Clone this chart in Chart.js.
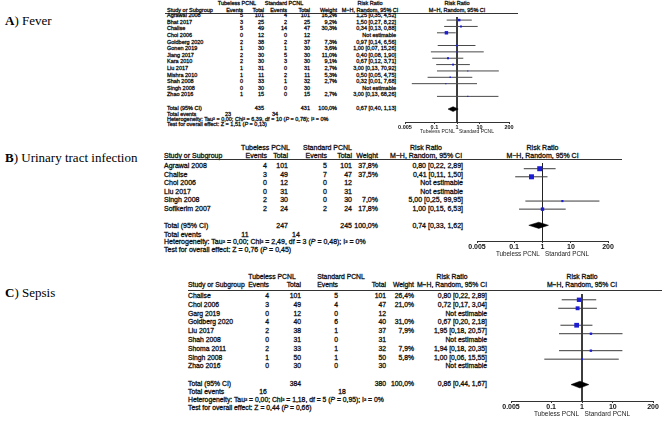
<!DOCTYPE html>
<html><head><meta charset="utf-8">
<script src="https://cdn.jsdelivr.net/npm/chart.js@4.4.0/dist/chart.umd.min.js"></script>
<style>
html,body{margin:0;padding:0;background:#fff;}
#root{position:relative;width:670px;height:427px;overflow:hidden;background:#fff;}
.t{position:absolute;white-space:nowrap;font-family:'Liberation Sans',Arial,sans-serif;color:#111;line-height:1;-webkit-text-stroke:0.3px #111;}
.lbl{position:absolute;white-space:nowrap;font-family:'Liberation Serif','Times New Roman',serif;color:#000;line-height:1;}
.rule{position:absolute;height:0;border-top:1px solid #333;}
canvas{position:absolute;}
</style></head><body><div id="root"></div>
<script>
// ---------- DATA ----------
const tickValues = [0.005, 0.1, 1, 10, 200];
const tickLabels = ['0.005', '0.1', '1', '10', '200'];

// A) Fever
const feverStudies = ['Agrawal 2008','Bhat 2017','Chalise','Choi 2006','Goldberg 2020','Gonen 2019','Jiang 2017','Kara 2010','Liu 2017','Mishra 2010','Shah 2008','Singh 2008','Zhao 2016'];
const feverTubEvents = [5,3,5,0,2,1,2,2,1,1,0,0,1];
const feverTubTotal  = [101,25,49,12,38,30,30,30,31,11,33,30,15];
const feverStdEvents = [4,2,14,0,2,1,5,3,0,2,1,0,0];
const feverStdTotal  = [101,25,47,12,37,30,30,30,31,11,32,30,15];
const feverWeight = [16.2,9.2,30.3,null,7.3,3.6,11.0,9.1,2.7,5.3,2.7,null,2.7];
const feverRR = [1.25,1.50,0.34,null,0.97,1.00,0.40,0.67,3.00,0.50,0.32,null,3.00];
const feverLo = [0.35,0.27,0.13,null,0.14,0.07,0.08,0.12,0.13,0.05,0.01,null,0.13];
const feverHi = [4.52,8.22,0.88,null,6.56,15.26,1.90,3.71,70.92,4.75,7.68,null,68.26];
const feverTotalN = [435,431];
const feverTotalEvents = [23,34];
const feverTotalWeight = 100.0;
const feverPooled = [0.67,0.40,1.13];
const feverHetero = [0.00,6.39,10,0.78,0];   // Tau2, Chi2, df, P, I2
const feverOverall = [1.51,0.13];            // Z, P

// B) Urinary tract infection
const utiStudies = ['Agrawal 2008','Chalise','Choi 2006','Liu 2017','Singh 2008','Sofikerim 2007'];
const utiTubEvents = [4,3,0,0,2,2];
const utiTubTotal  = [101,49,12,31,30,24];
const utiStdEvents = [5,7,0,0,0,2];
const utiStdTotal  = [101,47,12,31,30,24];
const utiWeight = [37.8,37.5,null,null,7.0,17.8];
const utiRR = [0.80,0.41,null,null,5.00,1.00];
const utiLo = [0.22,0.11,null,null,0.25,0.15];
const utiHi = [2.89,1.50,null,null,99.95,6.53];
const utiTotalN = [247,245];
const utiTotalEvents = [11,14];
const utiTotalWeight = 100.0;
const utiPooled = [0.74,0.33,1.62];
const utiHetero = [0.00,2.49,3,0.48,0];
const utiOverall = [0.76,0.45];

// C) Sepsis
const sepsisStudies = ['Chalise','Choi 2006','Garg 2019','Goldberg 2020','Liu 2017','Shah 2008','Shoma 2011','Singh 2008','Zhao 2016'];
const sepsisTubEvents = [4,3,0,4,2,0,2,1,0];
const sepsisTubTotal  = [101,49,12,40,38,31,33,50,30];
const sepsisStdEvents = [5,4,0,6,1,0,1,1,0];
const sepsisStdTotal  = [101,47,12,40,37,31,32,50,30];
const sepsisWeight = [26.4,21.0,null,31.0,7.9,null,7.9,5.8,null];
const sepsisRR = [0.80,0.72,null,0.67,1.95,null,1.94,1.00,null];
const sepsisLo = [0.22,0.17,null,0.20,0.18,null,0.18,0.06,null];
const sepsisHi = [2.89,3.04,null,2.18,20.57,null,20.35,15.55,null];
const sepsisTotalN = [384,380];
const sepsisTotalEvents = [16,18];
const sepsisTotalWeight = 100.0;
const sepsisPooled = [0.86,0.44,1.67];
const sepsisHetero = [0.00,1.18,5,0.95,0];
const sepsisOverall = [0.44,0.66];

// ---------- LAYOUT ----------
const layoutA = {letter:'A', title:'Fever', labelY:20, labelFs:13, fs:5.5, fsTick:5.5, fsSub:5, sq:0.44, sqMin:0.8, dh:0.38, ci:'#4a4a4a',
  x:{study:167,tEv:243,tTot:264,sEv:287,sTot:310,wt:337,rr:396,rrHdr:370,tubHdr:237,stdHdr:284,tEvT:228,sEvT:275,plotL:405,plotR:509,ruleL:165,ruleR:518},
  y:{h1:4,h2:10.5,rule:13,r0:16.2,dy:6.6,totEv:115,het:120,test:125,axis:122,axH:13}};
const layoutB = {letter:'B', title:'Urinary tract infection', labelY:157, labelFs:13, fs:7, fsTick:7, fsSub:6.3, sq:0.575, sqMin:1, dh:0.38, ci:'#3a3a3a',
  x:{study:164,tEv:267,tTot:288,sEv:327,sTot:352,wt:378,rr:463,rrHdr:426,tubHdr:265.5,stdHdr:327.5,tEvT:245,sEvT:296,plotL:477,plotR:608,ruleL:164,ruleR:622},
  y:{h1:147,h2:155,rule:159,r0:165,dy:8.5,totEv:234,het:241,test:249,axis:241,axH:17}};
const layoutC = {letter:'C', title:'Sepsis', labelY:292, labelFs:13, fs:6.8, fsTick:7, fsSub:6.5, sq:0.6, sqMin:1, dh:0.4, ci:'#3a3a3a',
  x:{study:188,tEv:269,tTot:301,sEv:338,sTot:386,wt:414,rr:487,rrHdr:452,tubHdr:272,stdHdr:341,tEvT:263,sEvT:342,plotL:511,plotR:653,ruleL:188,ruleR:662},
  y:{h1:277,h2:285,rule:290,r0:296,dy:8.8,totEv:392,het:400,test:408,axis:401,axH:17}};

// ---------- HELPERS ----------
const root = document.getElementById('root');
const fmt2 = v => v.toFixed(2).replace('.', ',');
const fmtW = v => v.toFixed(1).replace('.', ',') + '%';
const rrText = (r,l,h) => fmt2(r) + ' [' + fmt2(l) + ', ' + fmt2(h) + ']';
function txt(s, x, y, fs, align){
  const d = document.createElement('div'); d.className = 't';
  d.innerHTML = s; d.style.fontSize = fs + 'px'; d.style.left = x + 'px'; d.style.top = y + 'px';
  const tx = align === 'right' ? '-100%' : align === 'center' ? '-50%' : '0';
  d.style.transform = 'translate(' + tx + ',-50%)';
  root.appendChild(d); return d;
}
const log10 = Math.log10;
function xOf(X, v){ return X.plotL + (log10(v) - log10(0.005)) / (log10(200) - log10(0.005)) * (X.plotR - X.plotL); }

function buildPanel(P, L){
  const X = L.x, Y = L.y, fs = L.fs;
  const plotC = xOf(X, 1);
  const lab = document.createElement('div'); lab.className = 'lbl';
  lab.innerHTML = '<b>' + L.letter + '</b>) ' + L.title;
  lab.style.fontSize = L.labelFs + 'px'; lab.style.left = '5px'; lab.style.top = L.labelY + 'px'; lab.style.transform = 'translateY(-50%)';
  root.appendChild(lab);
  txt('Tubeless PCNL', X.tubHdr, Y.h1, fs, 'center');
  txt('Standard PCNL', X.stdHdr, Y.h1, fs, 'center');
  txt('Risk Ratio', X.rrHdr, Y.h1, fs, 'center');
  txt('Risk Ratio', plotC, Y.h1, fs, 'center');
  txt('Study or Subgroup', X.study, Y.h2, fs, 'left');
  txt('Events', X.tEv, Y.h2, fs, 'right');
  txt('Total', X.tTot, Y.h2, fs, 'right');
  txt('Events', X.sEv, Y.h2, fs, 'right');
  txt('Total', X.sTot, Y.h2, fs, 'right');
  txt('Weight', X.wt, Y.h2, fs, 'right');
  txt('M&minus;H, Random, 95% CI', X.rrHdr, Y.h2, fs, 'center');
  txt('M&minus;H, Random, 95% CI', plotC, Y.h2, fs, 'center');
  const r = document.createElement('div'); r.className = 'rule';
  r.style.left = X.ruleL + 'px'; r.style.top = Y.rule + 'px'; r.style.width = (X.ruleR - X.ruleL) + 'px';
  root.appendChild(r);
  P.studies.forEach((s, i) => {
    const y = Y.r0 + i * Y.dy;
    txt(s, X.study, y, fs, 'left');
    txt(String(P.tubEv[i]), X.tEv, y, fs, 'right');
    txt(String(P.tubTot[i]), X.tTot, y, fs, 'right');
    txt(String(P.stdEv[i]), X.sEv, y, fs, 'right');
    txt(String(P.stdTot[i]), X.sTot, y, fs, 'right');
    if (P.weight[i] != null) txt(fmtW(P.weight[i]), X.wt, y, fs, 'right');
    txt(P.rr[i] != null ? rrText(P.rr[i], P.lo[i], P.hi[i]) : 'Not estimable', X.rr, y, fs, 'right');
  });
  const ti = P.studies.length + 1, yt = Y.r0 + ti * Y.dy;
  txt('Total (95% CI)', X.study, yt, fs, 'left');
  txt(String(P.totN[0]), X.tTot, yt, fs, 'right');
  txt(String(P.totN[1]), X.sTot, yt, fs, 'right');
  txt(fmtW(P.totW), X.wt, yt, fs, 'right');
  txt(rrText(P.pooled[0], P.pooled[1], P.pooled[2]), X.rr, yt, fs, 'right');
  txt('Total events', X.study, Y.totEv, fs, 'left');
  txt(String(P.totEv[0]), X.tEvT, Y.totEv, fs, 'center');
  txt(String(P.totEv[1]), X.sEvT, Y.totEv, fs, 'center');
  const h = P.het;
  txt('Heterogeneity: Tau&sup2; = ' + fmt2(h[0]) + '; Chi&sup2; = ' + fmt2(h[1]) + ', df = ' + h[2] + ' (<i>P</i> = ' + fmt2(h[3]) + '); I&sup2; = ' + h[4] + '%', X.study, Y.het, fs, 'left');
  txt('Test for overall effect: Z = ' + fmt2(P.overall[0]) + ' (<i>P</i> = ' + fmt2(P.overall[1]) + ')', X.study, Y.test, fs, 'left');
  buildChart(P, L, ti);
}

function buildChart(P, L, ti){
  const X = L.x, Y = L.y, pad = 14;
  const cv = document.createElement('canvas');
  const left = X.plotL - pad, w = X.plotR - X.plotL + 2 * pad;
  const areaH = Y.axis - Y.rule, h = areaH + Y.axH;
  cv.width = w; cv.height = h;
  cv.style.left = left + 'px'; cv.style.top = Y.rule + 'px';
  cv.style.width = w + 'px'; cv.style.height = h + 'px';
  root.appendChild(cv);
  const yMin = (Y.rule - Y.r0) / Y.dy, yMax = (Y.axis - Y.r0) / Y.dy;
  const ds = [];
  ds.push({type:'line', data:[{x:1,y:yMin},{x:1,y:yMax}], borderColor:'#222', borderWidth:1, pointRadius:0, fill:false, order:5});
  P.rr.forEach((r, i) => {
    if (r == null) return;
    ds.push({type:'line', data:[{x:P.lo[i],y:i},{x:P.hi[i],y:i}], borderColor:L.ci, borderWidth:1, pointRadius:0, fill:false, order:4});
  });
  const pts = [];
  P.rr.forEach((r, i) => { if (r != null) pts.push({x:r, y:i, w:P.weight[i]}); });
  ds.push({type:'scatter', data:pts, pointStyle:'rect', backgroundColor:'#1c1cd2', borderWidth:0,
    pointRadius: c => Math.max(L.sqMin, L.sq * Math.sqrt(c.raw.w)), order:2});
  const [pe, pl, ph] = P.pooled;
  ds.push({type:'line', data:[{x:pl,y:ti},{x:pe,y:ti-L.dh},{x:ph,y:ti},{x:pe,y:ti+L.dh},{x:pl,y:ti}],
    borderColor:'#000', backgroundColor:'#000', borderWidth:0.5, pointRadius:0, fill:'shape', tension:0, order:1});
  new Chart(cv, {
    type:'scatter',
    data:{datasets:ds},
    options:{
      responsive:false, animation:false, devicePixelRatio:1, events:[],
      layout:{padding:{left:pad, right:pad, top:0, bottom:0}},
      plugins:{legend:{display:false}, tooltip:{enabled:false}},
      scales:{
        x:{type:'logarithmic', min:0.005, max:200, position:'bottom',
          afterBuildTicks: s => { s.ticks = tickValues.map(v => ({value:v})); },
          afterFit: s => { s.height = Y.axH; },
          ticks:{autoSkip:false, maxRotation:0, minRotation:0, padding:0, color:'#111',
            font:{family:'Liberation Sans', size:L.fsTick, weight:'bold'},
            callback:(v, i) => tickLabels[i]},
          grid:{display:true, drawOnChartArea:false, drawTicks:true, tickLength:2, color:'#333'},
          border:{display:true, color:'#333', width:1},
          title:{display:true, text:'Tubeless PCNL   Standard PCNL', color:'#222',
            font:{family:'Liberation Sans', size:L.fsSub}, padding:{top:0, bottom:0}}},
        y:{type:'linear', display:false, min:yMin, max:yMax, reverse:true}
      }
    }
  });
}

buildPanel({studies:feverStudies, tubEv:feverTubEvents, tubTot:feverTubTotal, stdEv:feverStdEvents, stdTot:feverStdTotal,
  weight:feverWeight, rr:feverRR, lo:feverLo, hi:feverHi, totN:feverTotalN, totEv:feverTotalEvents, totW:feverTotalWeight,
  pooled:feverPooled, het:feverHetero, overall:feverOverall}, layoutA);
buildPanel({studies:utiStudies, tubEv:utiTubEvents, tubTot:utiTubTotal, stdEv:utiStdEvents, stdTot:utiStdTotal,
  weight:utiWeight, rr:utiRR, lo:utiLo, hi:utiHi, totN:utiTotalN, totEv:utiTotalEvents, totW:utiTotalWeight,
  pooled:utiPooled, het:utiHetero, overall:utiOverall}, layoutB);
buildPanel({studies:sepsisStudies, tubEv:sepsisTubEvents, tubTot:sepsisTubTotal, stdEv:sepsisStdEvents, stdTot:sepsisStdTotal,
  weight:sepsisWeight, rr:sepsisRR, lo:sepsisLo, hi:sepsisHi, totN:sepsisTotalN, totEv:sepsisTotalEvents, totW:sepsisTotalWeight,
  pooled:sepsisPooled, het:sepsisHetero, overall:sepsisOverall}, layoutC);
</script>
</body></html>
